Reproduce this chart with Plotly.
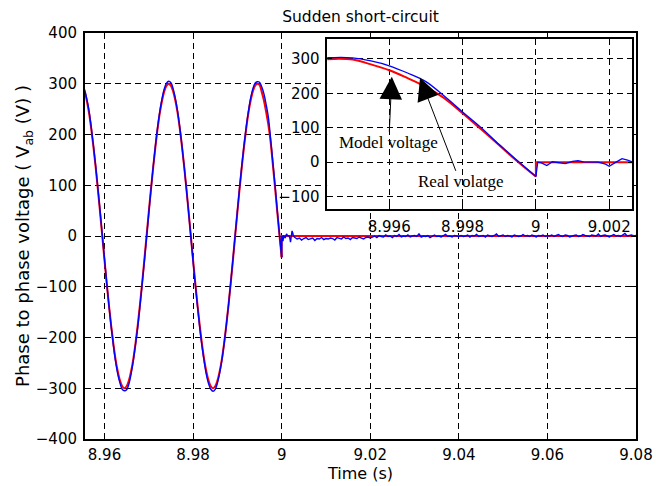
import plotly.graph_objects as go

# ---------------------------------------------------------------------------
# Phase-to-phase voltage V_ab around a sudden short circuit at t = 9 s
# ---------------------------------------------------------------------------
PRE_START = 8.9550      # first sample before the fault (s)
PRE_STEP = 0.0005       # sampling step before the fault (s)

# model voltage (red) before the fault, one value per PRE_STEP
model_pre = [
    296, 285, 267, 243, 212, 176, 136, 93, 47, 0,
    -47, -93, -136, -176, -212, -243, -267, -285, -296, -300,
    -296, -285, -267, -243, -212, -176, -136, -93, -47, 0,
    47, 93, 136, 176, 212, 243, 267, 285, 296, 300,
    296, 285, 267, 243, 212, 176, 136, 93, 47, 0,
    -47, -93, -136, -176, -212, -243, -267, -285, -296, -300,
    -296, -285, -267, -243, -212, -176, -136, -93, -47, 0,
    47, 93, 136, 176, 212, 243, 267, 285, 296, 300,
    298, 284, 267, 244, 219, 186, 142, 96, 49, 2,
    -42,
]

# measured voltage (blue) before the fault
real_pre = [
    298, 288, 270, 247, 215, 178, 139, 95, 50, 2,
    -45, -92, -137, -178, -215, -247, -272, -290, -302, -305,
    -303, -292, -272, -246, -214, -180, -139, -95, -50, -3,
    45, 92, 137, 178, 215, 246, 271, 290, 301, 305,
    302, 290, 271, 246, 214, 177, 136, 92, 46, -2,
    -50, -96, -139, -180, -216, -247, -273, -291, -302, -306,
    -302, -290, -270, -245, -213, -176, -136, -92, -46, 2,
    49, 95, 139, 179, 215, 246, 272, 290, 301, 304,
    303, 294, 280, 259, 234, 192, 146, 101, 51, 4,
    -42,
]

# model voltage after the fault
model_post_t = [9.0, 9.08]
model_post = [0, 0]

# measured voltage just after the fault (fine detail)
real_fast_t = [9.00005, 9.00015, 9.00030, 9.00045, 9.00060, 9.00080,
               9.00100, 9.00115, 9.00130, 9.00150, 9.00170, 9.00190,
               9.00200, 9.00215, 9.00235, 9.00250, 9.00265]
real_fast = [0, -2, -10, 1, -1, -4, 2, 4, 1, 0, 0, -6, -12, -2, 10, 6, 0]

# measured voltage after the fault, one value per POST_STEP
POST_START = 9.0030
POST_STEP = 0.0005
real_post = [
    -3, -6, -4, -8, -5, -3, -7, -6, -4, -9, -5, -6, -3, -7, -5,
    -6, -4, -5, -8, -3, -5, -6, -2, -5, -4, -7, -3, -4, -5, -2, -4, -6, -3, -2, -4,
    -2, 0, -3, 1, -1, -2, 2, -1, 0, -3, 1, -1, 3, -2, 0, -1, 2, -2, 0, 1,
    -1, 4, -2, 0, -1, 1, -3, 0, 2, -1, 0, -2, 1, 3, -1, 0, -2, 1, 0, -1,
    1, -1, 0, 2, -2, 1, 0, 3, -1, 0, 1, -2, 2, 0, -1, 1, 4, -1, 0, 2,
    -1, 1, 0, -2, 2, 1, -1, 0, 3, 0, 1, -1, 2, 0, -2, 1, 0, 2, -1, 1,
    0, 2, -1, 1, 3, 0, -1, 2, 1, -2, 0, 1, 2, -1, 0, 3, 1, 0, -1, 2,
    1, 0, 4, -1, 1, 2, 0, -2, 1, 3, 0, 1, -1, 2, 5, 0, 1, 2, 0, 1,
]

# axis ticks
main_xticks = [8.96, 8.98, 9.0, 9.02, 9.04, 9.06, 9.08]
main_xlabels = ["8.96", "8.98", "9", "9.02", "9.04", "9.06", "9.08"]
main_yticks = [-400, -300, -200, -100, 0, 100, 200, 300, 400]
zoom_xticks = [8.996, 8.998, 9.0, 9.002]
zoom_xlabels = ["8.996", "8.998", "9", "9.002"]
zoom_yticks = [-100, 0, 100, 200, 300]

MAIN_XRANGE = [8.9556, 9.08]
MAIN_YRANGE = [-400, 400]
ZOOM_XRANGE = [8.99431, 9.00263]
ZOOM_YRANGE = [-137, 357]


def sample_times(start, step, n):
    return [round(start + k * step, 5) for k in range(n)]


t_pre = sample_times(PRE_START, PRE_STEP, len(model_pre))
t_post = sample_times(POST_START, POST_STEP, len(real_post))

# post-fault traces start from the last pre-fault sample so the step is drawn
red_post_x = [t_pre[-1]] + model_post_t
red_post_y = [model_pre[-1]] + model_post
blue_post_x = [t_pre[-1]] + real_fast_t + t_post
blue_post_y = [real_pre[-1]] + real_fast + real_post

RED = "#ff0000"
BLUE = "#0000ff"
SANS = "DejaVu Sans"
SERIF = "Liberation Serif"

fig = go.Figure()

for xa, ya, rw, bw in (("x", "y", 2.0, 1.4), ("x2", "y2", 2.0, 1.3)):
    fig.add_trace(go.Scatter(x=t_pre, y=model_pre, mode="lines",
                             line=dict(color=RED, width=rw, shape="spline"),
                             xaxis=xa, yaxis=ya, showlegend=False, hoverinfo="skip"))
    fig.add_trace(go.Scatter(x=red_post_x, y=red_post_y, mode="lines",
                             line=dict(color=RED, width=rw),
                             xaxis=xa, yaxis=ya, showlegend=False, hoverinfo="skip"))
    fig.add_trace(go.Scatter(x=t_pre, y=real_pre, mode="lines",
                             line=dict(color=BLUE, width=bw, shape="spline"),
                             xaxis=xa, yaxis=ya, showlegend=False, hoverinfo="skip"))
    fig.add_trace(go.Scatter(x=blue_post_x, y=blue_post_y, mode="lines",
                             line=dict(color=BLUE, width=bw),
                             xaxis=xa, yaxis=ya, showlegend=False, hoverinfo="skip"))

axis_common = dict(
    showgrid=True, gridcolor="black", gridwidth=1, griddash="6px,4px",
    showline=True, linecolor="black", mirror="ticks",
    ticks="inside", ticklen=5, tickcolor="black",
    tickfont=dict(family=SANS, size=15, color="black"),
    zeroline=False, automargin=False,
)

label_font = dict(family=SERIF, size=17, color="black")

fig.update_layout(
    width=656, height=486,
    margin=dict(l=85, r=20, t=33, b=47),
    paper_bgcolor="white", plot_bgcolor="white",
    font=dict(family=SANS, color="black"),
    title=dict(text="Sudden short-circuit", x=0.5, xref="paper",
               y=1 - 17 / 486, yref="container", yanchor="middle",
               font=dict(family=SANS, size=15.5, color="black")),
    xaxis=dict(axis_common, domain=[0, 1], range=MAIN_XRANGE,
               tickvals=main_xticks, ticktext=main_xlabels, linewidth=2,
               ticklabelstandoff=1,
               title=dict(text="Time (s)", font=dict(family=SANS, size=16),
                          standoff=2)),
    yaxis=dict(axis_common, domain=[0, 1], range=MAIN_YRANGE,
               tickvals=main_yticks, linewidth=2, ticklabelstandoff=3,
               title=dict(text="Phase to phase voltage ( V<sub>ab</sub> (V) )",
                          font=dict(family=SANS, size=18), standoff=0)),
    xaxis2=dict(axis_common, domain=[0.4397, 0.9933], anchor="y2",
                range=ZOOM_XRANGE, tickvals=zoom_xticks, ticktext=zoom_xlabels,
                linewidth=1.5, ticklabelstandoff=3),
    yaxis2=dict(axis_common, domain=[0.5658, 0.9845], anchor="x2",
                range=ZOOM_YRANGE, tickvals=zoom_yticks, linewidth=1.5,
                ticklabelstandoff=3),
    shapes=[
        # white backing for the zoomed view
        dict(type="rect", xref="x2", yref="y2", layer="below",
             x0=ZOOM_XRANGE[0], x1=ZOOM_XRANGE[1],
             y0=ZOOM_YRANGE[0], y1=ZOOM_YRANGE[1],
             fillcolor="white", line=dict(width=0)),
    ],
    annotations=[
        # labels with arrows pointing at the two curves
        dict(text="Model voltage", xref="x2", yref="y2", x=8.99607, y=248,
             ax=-3, ay=66, showarrow=True, arrowhead=2, arrowsize=4.5,
             arrowwidth=1, arrowcolor="black", font=label_font),
        dict(text="Real volatge", xref="x2", yref="y2", x=8.99684, y=245,
             ax=40, ay=104, showarrow=True, arrowhead=2, arrowsize=4.5,
             arrowwidth=1, arrowcolor="black", font=label_font),
    ],
)

fig.write_html("out.html")
